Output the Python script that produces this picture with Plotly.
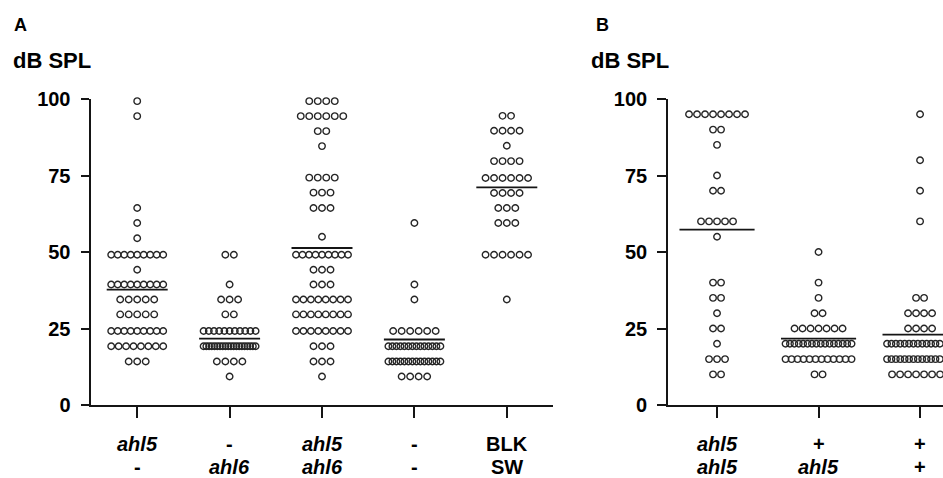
import plotly.graph_objects as go

W, H = 943, 478

# ---------------- data ----------------
# Panel A: rows of (dB SPL value, number of animals) per genotype
A_top = ["<i>ahl5</i>", "-", "<i>ahl5</i>", "-", "BLK"]
A_bot = ["-", "<i>ahl6</i>", "<i>ahl6</i>", "-", "SW"]
A_rows = [
    [(99.3, 1), (94.4, 1), (64.4, 1), (59.5, 1), (54.5, 1), (49.1, 9), (44.2, 1),
     (39.4, 9), (34.5, 5), (29.6, 5), (24.2, 9), (19.2, 8), (14.2, 3)],
    [(49.1, 2), (39.4, 1), (34.5, 3), (29.6, 2), (24.2, 11), (19.2, 20),
     (14.2, 4), (9.3, 1)],
    [(99.3, 4), (94.4, 6), (89.5, 2), (84.6, 1), (74.3, 4), (69.4, 3), (64.4, 3),
     (55.0, 1), (49.1, 9), (44.2, 3), (39.4, 3), (34.5, 8), (29.6, 8), (24.2, 8),
     (19.2, 3), (14.2, 3), (9.3, 1)],
    [(59.5, 1), (39.4, 1), (34.5, 1), (24.2, 6), (19.2, 14), (14.2, 14), (9.3, 4)],
    [(94.5, 2), (89.6, 4), (84.7, 1), (79.7, 4), (74.2, 6), (69.3, 4), (64.4, 3),
     (59.5, 3), (49.1, 6), (34.5, 1)],
]
A_mean = [37.7, 21.7, 51.3, 21.4, 71.1]

# Panel B
B_top = ["<i>ahl5</i>", "+", "+"]
B_bot = ["<i>ahl5</i>", "<i>ahl5</i>", "+"]
B_rows = [
    [(95, 8), (90, 2), (85, 1), (75, 1), (70, 2), (60, 5), (55, 1), (40, 2),
     (35, 2), (30, 1), (25, 2), (20, 1), (15, 3), (10, 2)],
    [(50, 1), (40, 1), (35, 1), (30, 2), (25, 7), (20, 16), (15, 12), (10, 2)],
    [(95, 1), (80, 1), (70, 1), (60, 1), (35, 2), (30, 4), (25, 4), (20, 16),
     (15, 16), (10, 8)],
]
B_mean = [57.3, 21.7, 23.0]

Y_TICKS = [0, 25, 50, 75, 100]

# ---------------- layout constants ----------------
T, B = 99, 73
A_X0, A_X1 = 91, 553
B_X0, B_X1 = 667.7, 943
A_RANGE = [-0.5, 4.5]
B_RANGE = [-0.486, 2.226]
FONT = "Liberation Sans, Arial, sans-serif"
INK = "#151515"
DOT = "#262626"


def px_y(py):
    return (H - B - py) / (H - T - B)


def spread(rows, ppu, step_px, max_px):
    xs, ys = [], []
    for gi, rr in enumerate(rows):
        for val, n in rr:
            if n == 1:
                offs = [0.0]
            else:
                step = min(step_px, max_px / (n - 1))
                offs = [(k - (n - 1) / 2) * step / ppu for k in range(n)]
            for o in offs:
                xs.append(gi + o)
                ys.append(val)
    return xs, ys


fig = go.Figure()

panels = [
    ("x", "y", A_rows, A_mean, A_X0, A_X1, A_RANGE, 8.5, 52, 0.66),
    ("x2", "y2", B_rows, B_mean, B_X0, B_X1, B_RANGE, 8.0, 66, 0.74),
]
for xa, ya, rows, means, x0, x1, rng, step, mx, mw in panels:
    ppu = (x1 - x0) / (rng[1] - rng[0])
    xs, ys = spread(rows, ppu, step, mx)
    fig.add_trace(go.Scatter(
        x=xs, y=ys, mode="markers", xaxis=xa, yaxis=ya, cliponaxis=False,
        marker=dict(symbol="circle-open", size=6.5, color=DOT,
                    line=dict(width=1.4, color=DOT)),
        hoverinfo="skip", showlegend=False))
    for gi, m in enumerate(means):
        fig.add_trace(go.Scatter(
            x=[gi - mw / 2, gi + mw / 2], y=[m, m], mode="lines",
            xaxis=xa, yaxis=ya, cliponaxis=False,
            line=dict(color=INK, width=1.8), hoverinfo="skip", showlegend=False))

axis_common = dict(showline=True, linewidth=2, linecolor=INK, showgrid=False,
                   zeroline=False, ticks="outside", tickcolor=INK, tickwidth=2)

yax = dict(axis_common, range=[0, 100], tickvals=Y_TICKS, ticklen=8.5,
           ticklabelstandoff=6,
           tickfont=dict(family=FONT, size=20, color="black", weight="bold"))

fig.update_layout(
    width=W, height=H, margin=dict(l=0, r=0, t=T, b=B),
    paper_bgcolor="white", plot_bgcolor="white",
    xaxis=dict(axis_common, domain=[A_X0 / W, A_X1 / W], range=A_RANGE,
               tickvals=list(range(len(A_top))), showticklabels=False, ticklen=11,
               anchor="y"),
    yaxis=dict(yax, anchor="x"),
    xaxis2=dict(axis_common, domain=[B_X0 / W, B_X1 / W], range=B_RANGE,
                tickvals=list(range(len(B_top))), showticklabels=False, ticklen=11,
                anchor="y2"),
    yaxis2=dict(yax, anchor="x2"),
)

ann = []
lab_font = dict(family=FONT, size=20, color="black", weight="bold")
for xr, tops, bots in (("x", A_top, A_bot), ("x2", B_top, B_bot)):
    for i, (t1, t2) in enumerate(zip(tops, bots)):
        ann.append(dict(x=i, xref=xr, y=px_y(443.5), yref="paper", text=t1,
                        showarrow=False, xanchor="center", yanchor="middle",
                        font=lab_font))
        ann.append(dict(x=i, xref=xr, y=px_y(466.5), yref="paper", text=t2,
                        showarrow=False, xanchor="center", yanchor="middle",
                        font=lab_font))

for letter, lx, tx in (("A", 12, 11), ("B", 594, 589)):
    ann.append(dict(x=lx / W, xref="paper", y=px_y(25), yref="paper", text=letter,
                    showarrow=False, xanchor="left", yanchor="middle",
                    font=dict(family=FONT, size=18, color="black", weight="bold")))
    ann.append(dict(x=tx / W, xref="paper", y=px_y(60), yref="paper", text="dB SPL",
                    showarrow=False, xanchor="left", yanchor="middle",
                    font=dict(family=FONT, size=22, color="black", weight="bold")))

fig.update_layout(annotations=ann)
fig.write_html(
    "out.html",
    config={"displayModeBar": False, "staticPlot": True},
    post_script="document.body.style.margin='0';document.body.style.padding='0';"
                "document.body.style.overflow='hidden';",
)
